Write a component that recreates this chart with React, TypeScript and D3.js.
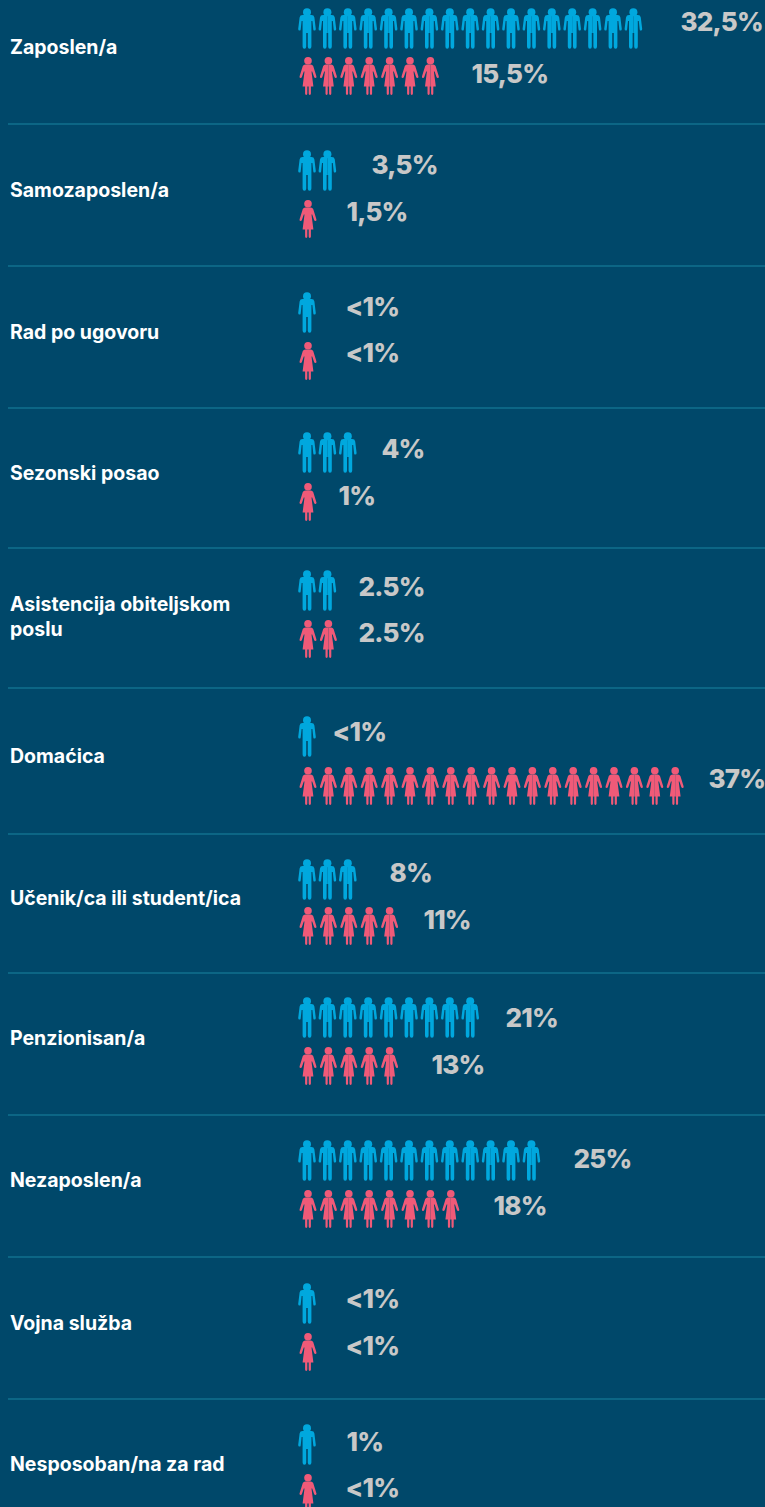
import React from "react";
import * as d3 from "d3";

const categories = ["Zaposlen/a","Samozaposlen/a","Rad po ugovoru","Sezonski posao",["Asistencija obiteljskom","poslu"],"Domaćica","Učenik/ca ili student/ica","Penzionisan/a","Nezaposlen/a","Vojna služba","Nesposoban/na za rad"];
const maleIcons = [17,2,1,3,2,1,3,9,12,1,1];
const femaleIcons = [7,1,1,1,2,19,5,5,8,1,1];
const maleLabels = ["32,5%","3,5%","<1%","4%","2.5%","<1%","8%","21%","25%","<1%","1%"];
const femaleLabels = ["15,5%","1,5%","<1%","1%","2.5%","37%","11%","13%","18%","<1%","<1%"];

// layout (pixels)
const separators = [124,266,408,548,688,834,973,1115,1257,1399];
const maleTop = [9,151,293,433,571,717,860,998,1141,1284,1425];
const femaleTop = [57,200,342,483,620,767,907,1047,1190,1333,1474];
const maleLabelX = [680.5,371.5,345.5,381.5,358.5,332.5,389.5,505.5,573.5,345.5,346.5];
const femaleLabelX = [471.5,346.5,345.5,338.5,358.5,708.5,423.5,431.5,493.5,345.5,345.5];
const maleLabelY = [31,174,316,458,596,741,882,1027,1168,1308,1451];
const femaleLabelY = [83,221,362,505,642,788,929,1074,1215,1355,1497];
const labelY = [54,197,339,480,[611,636],763,905,1045,1187,1330,1471];

const BG = "#00486a", BLUE = "#00a8de", RED = "#f05a78", GREY = "#c8c8c8", LINE = "#11708f";
const FONT = "Inter, 'Open Sans', sans-serif";

const iconX = d3.scaleLinear().domain([0, 1]).range([307, 327.4]);

const halfMan = "M0,6 H4.4 Q7,6 7.4,8.4 L8.8,20 Q8.8,21.6 7.5,21.6 Q6.5,21.6 6.3,20.4 L5.4,12 H4.4 V37.4 Q4.4,39.8 2.6,39.8 Q0.8,39.8 0.8,37.4 V24 H0 Z";
const halfWoman = "M0,5.8 H2.8 Q4.4,5.8 5.2,7.4 L8.4,17.6 Q8.8,19 7.6,19.4 Q6.6,19.6 6.1,18.5 L4.2,12.8 H3.5 L5.4,28 H2.9 V35 Q2.9,36.4 1.8,36.4 Q0.7,36.4 0.7,35 V28 H0 Z";

function Man({ x, y }: { x: number; y: number }) {
  return (
    <g transform={`translate(${x},${y})`} fill={BLUE}>
      <circle cx={0} cy={3.3} r={4} />
      <path d={halfMan} />
      <path d={halfMan} transform="scale(-1,1)" />
    </g>
  );
}
function Woman({ x, y }: { x: number; y: number }) {
  return (
    <g transform={`translate(${x},${y})`} fill={RED}>
      <circle cx={0} cy={3.8} r={3.8} />
      <path d={halfWoman} transform="translate(0,1.6)" />
      <path d={halfWoman} transform="translate(0,1.6) scale(-1,1)" />
    </g>
  );
}

export default function App() {
  return (
    <svg width={765} height={1507} style={{ position: "fixed", left: 0, top: 0, display: "block", background: BG }} fontFamily={FONT}>
      <rect width={765} height={1507} fill={BG} />
      {separators.map((y) => <line key={y} x1={8} x2={765} y1={y} y2={y} stroke={LINE} strokeWidth={1.5} />)}
      {categories.map((c, i) => {
        const lines = Array.isArray(c) ? c : [c];
        const ys = labelY[i];
        const yArr = Array.isArray(ys) ? ys : [ys];
        return (
          <g key={i}>
            {lines.map((t, j) => <text key={j} x={10} y={yArr[j]} fill="#fff" fontSize={19.5} fontWeight={700}>{t}</text>)}
            {d3.range(maleIcons[i]).map((k) => <Man key={k} x={iconX(k)} y={maleTop[i]} />)}
            {d3.range(femaleIcons[i]).map((k) => <Woman key={k} x={iconX(k) + 1} y={femaleTop[i]} />)}
            <text x={maleLabelX[i]} y={maleLabelY[i]} fill={GREY} fontSize={26} fontWeight={800} letterSpacing={-0.8}>{maleLabels[i]}</text>
            <text x={femaleLabelX[i]} y={femaleLabelY[i]} fill={GREY} fontSize={26} fontWeight={800} letterSpacing={-0.8}>{femaleLabels[i]}</text>
          </g>
        );
      })}
    </svg>
  );
}
